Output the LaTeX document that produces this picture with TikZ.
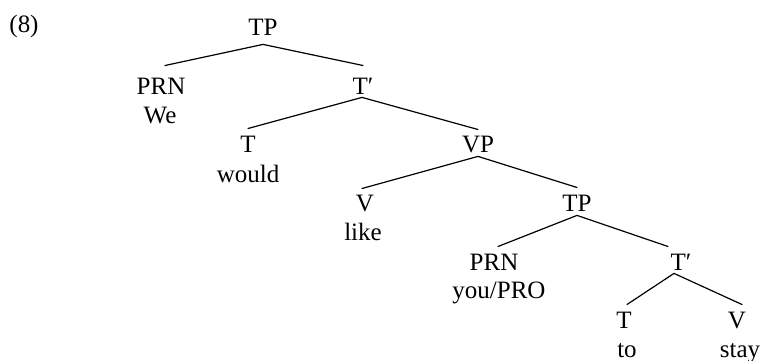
\documentclass[tikz,border=0pt]{standalone}
\usepackage{fontspec}
\setmainfont{Liberation Serif}
\begin{document}
\begin{tikzpicture}[x=0.5pt,y=-0.5pt,
  txt/.style={anchor=base, inner sep=0pt, font=\fontsize{12.5}{15}\selectfont},
  cat/.style={txt, text height=8.3pt, text depth=0pt},
  branch/.style={line width=0.6pt, line cap=round}]
\useasboundingbox (0,0) rectangle (762,360);
\node[txt] (ex) at (24,32) {(8)};
% nodes
\node[cat] (TPa) at (263,35) {TP};
\node[cat] (PRNa) at (161,94) {PRN};
\node[txt] (We) at (160,123) {We};
\node[cat] (Tba) at (363,94) {T′};
\node[cat] (Ta) at (248,152) {T};
\node[txt] (would) at (248,182) {would};
\node[cat] (VP) at (478,152) {VP};
\node[cat] (V) at (365,211) {V};
\node[txt] (like) at (363,240) {like};
\node[cat] (TPb) at (577,211) {TP};
\node[cat] (PRNb) at (494,270) {PRN};
\node[txt] (you) at (499,298) {you/PRO};
\node[cat] (Tbb) at (681,270) {T′};
\node[cat] (Tc) at (624,328) {T};
\node[txt] (to) at (627,357) {to};
\node[cat] (Vc) at (737,328) {V};
\node[txt] (stay) at (740,357) {stay};
% branches
\draw[branch] ([yshift=-4.5pt]TPa.south) -- ([xshift=2pt,yshift=5.75pt]PRNa.north);
\draw[branch] ([yshift=-4.5pt]TPa.south) -- ([yshift=5.75pt]Tba.north);
\draw[branch] ([xshift=-0.5pt,yshift=-1.5pt]Tba.south) -- ([yshift=3.25pt]Ta.north);
\draw[branch] ([xshift=-0.5pt,yshift=-1.5pt]Tba.south) -- ([yshift=2.75pt]VP.north);
\draw[branch] ([yshift=-2pt]VP.south) -- ([xshift=-1.5pt,yshift=2.75pt]V.north);
\draw[branch] ([yshift=-2pt]VP.south) -- ([yshift=3.25pt]TPb.north);
\draw[branch] ([yshift=-2pt]TPb.south) -- ([xshift=2pt,yshift=3.25pt]PRNb.north);
\draw[branch] ([yshift=-2pt]TPb.south) -- ([xshift=-6.5pt,yshift=3.25pt]Tbb.north);
\draw[branch] ([xshift=-3.5pt,yshift=-1.5pt]Tbb.south) -- ([xshift=1.5pt,yshift=3.25pt]Tc.north);
\draw[branch] ([xshift=-3.5pt,yshift=-1.5pt]Tbb.south) -- ([xshift=2.5pt,yshift=3.25pt]Vc.north);
\end{tikzpicture}
\end{document}
